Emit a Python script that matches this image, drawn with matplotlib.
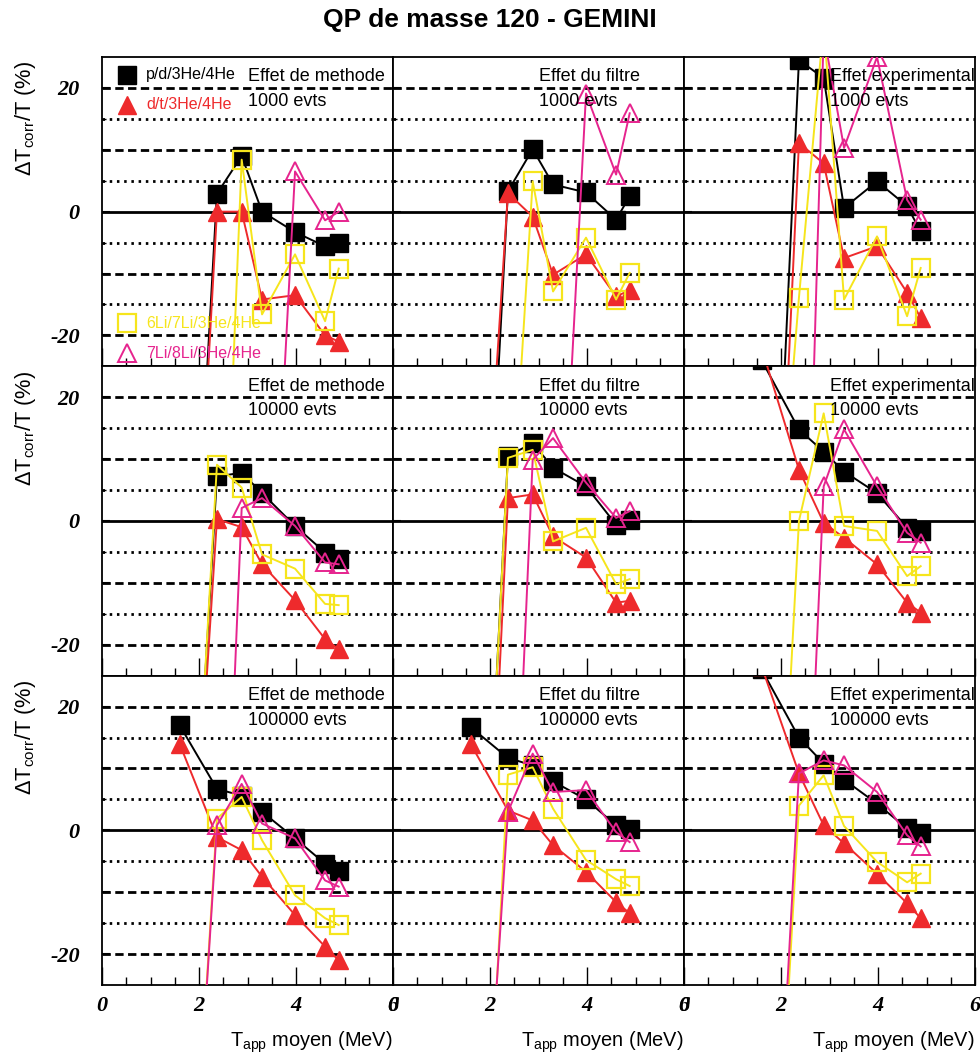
import matplotlib
matplotlib.use('Agg')
import matplotlib.pyplot as plt
from matplotlib import font_manager

# ---------------- data ----------------
X = [1.6, 2.37, 2.88, 3.3, 3.98, 4.6, 4.88]          # T_app moyen (MeV)
COLUMNS = ['Effet de methode', 'Effet du filtre', 'Effet experimental']
ROWS = ['1000 evts', '10000 evts', '100000 evts']
SERIES = ['p/d/3He/4He', 'd/t/3He/4He', '6Li/7Li/3He/4He', '7Li/8Li/3He/4He']

# one list per column (methode, filtre, experimental); values in %
pd_1000 = [[-105, 2.9, 9.0, 0.0, -3.3, -5.6, -5.0],
           [-110, 3.3, 10.1, 4.4, 3.1, -1.3, 2.5],
           [-106, 24.5, 21.6, 0.6, 4.9, 0.9, -3.2]]
dt_1000 = [[-108, 0.0, 0.0, -14.2, -13.5, -20.0, -21.0],
           [-90, 3.0, -0.8, -10.2, -6.9, -13.7, -12.7],
           [-118, 11.1, 7.8, -7.5, -5.6, -13.1, -17.2]]
li67_1000 = [[-120, -90, 8.4, -16.6, -6.9, -17.7, -9.2],
             [-120, -60, 4.9, -12.9, -4.2, -14.2, -9.9],
             [-88, -13.9, 30.3, -14.2, -4.0, -16.9, -9.1]]
li78_1000 = [[-120, -120, -120, -95, 6.5, -1.4, 0.0],
             [-120, -120, -120, -83, 19.1, 6.0, 15.9],
             [-120, -109, 28.7, 10.3, 25.0, 1.9, -1.3]]

pd_10000 = [[-95, 7.2, 7.8, 4.5, -0.8, -5.1, -6.2],
            [-107, 10.5, 12.6, 8.6, 5.6, -0.6, 0.2],
            [26, 14.8, 11.2, 8.0, 4.5, -1.1, -1.6]]
dt_10000 = [[-93, 0.3, -1.0, -7.0, -12.8, -19.1, -20.7],
            [-121, 3.7, 4.3, -2.5, -5.9, -13.2, -12.9],
            [28, 8.3, -0.3, -2.7, -7.0, -13.2, -14.8]]
li67_10000 = [[-97, 9.1, 5.4, -5.4, -7.7, -13.4, -13.6],
              [-107, 10.2, 11.5, -3.3, -1.1, -10.2, -9.4],
              [-114, 0.0, 17.4, -0.8, -1.6, -8.9, -7.3]]
li78_10000 = [[-120, -95, 2.1, 3.7, -0.8, -6.7, -7.0],
              [-120, -82, 9.9, 13.4, 6.2, 0.5, 1.6],
              [-120, -87, 5.6, 14.8, 5.6, -1.9, -3.5]]

pd_100000 = [[17.0, 6.7, 5.6, 3.0, -1.3, -5.4, -6.5],
             [16.7, 11.7, 10.5, 7.9, 5.0, 0.8, 0.2],
             [26, 15.0, 10.8, 8.2, 4.3, 0.3, -0.4]]
dt_100000 = [[14.0, -1.1, -3.2, -7.5, -13.7, -18.8, -21.0],
             [14.0, 3.2, 1.6, -2.4, -6.7, -11.6, -13.4],
             [26.5, 9.2, 0.8, -2.1, -7.0, -11.8, -14.2]]
li67_100000 = [[-95, 1.9, 5.4, -1.6, -10.5, -14.2, -15.3],
               [-104, 9.0, 10.2, 3.5, -4.8, -7.9, -9.0],
               [-103, 4.0, 8.9, 0.7, -5.1, -8.4, -7.0]]
li78_100000 = [[-95, 0.8, 7.5, 1.1, -1.3, -8.1, -9.1],
               [-90, 3.0, 12.4, 6.2, 6.5, -0.3, -1.9],
               [-101, 9.2, 11.3, 10.5, 6.2, -0.8, -2.6]]

DATA = [[pd_1000, dt_1000, li67_1000, li78_1000],
        [pd_10000, dt_10000, li67_10000, li78_10000],
        [pd_100000, dt_100000, li67_100000, li78_100000]]

# ---------------- style ----------------
BLACK, RED, YELLOW, PINK = '#000000', '#ee2a2c', '#f6e51c', '#e6248e'
STYLES = [dict(color=BLACK, marker='s', ms=12.5, mfc=BLACK, mec=BLACK, mew=1.0),
          dict(color=RED, marker='^', ms=13.5, mfc=RED, mec=RED, mew=1.0),
          dict(color=YELLOW, marker='s', ms=12.5, mfc='none', mec=YELLOW, mew=1.6),
          dict(color=PINK, marker='^', ms=13.5, mfc='none', mec=PINK, mew=1.4)]

plt.rcParams['font.family'] = ['Liberation Sans', 'DejaVu Sans']
plt.rcParams['mathtext.fontset'] = 'custom'

installed = {f.name for f in font_manager.fontManager.ttflist}
NARROW = 'Liberation Sans Narrow' if 'Liberation Sans Narrow' in installed else 'Liberation Sans'
narrow_scale = 1.0 if NARROW == 'Liberation Sans Narrow' else 0.85
plt.rcParams['mathtext.rm'] = NARROW
plt.rcParams['mathtext.it'] = NARROW + ':italic'

W, H = 980, 1063
fig = plt.figure(figsize=(W / 100, H / 100), dpi=100)

left0, top0 = 102, 57
cw, rh = 291.0, (985 - 57) / 3.0
tickfont = dict(family='Liberation Serif', weight='bold', style='italic', size=16)

for r in range(3):
    for c in range(3):
        x0 = left0 + c * cw
        y0 = top0 + r * rh
        ax = fig.add_axes([x0 / W, 1 - (y0 + rh) / H, cw / W, rh / H])
        ax.set_xlim(0, 6)
        ax.set_ylim(-25, 25)
        # reference lines
        for yv in (-20, -10, 10, 20):
            ax.axhline(yv, color='black', lw=2.0, dashes=(3.0, 1.6), zorder=1)
        for yv in (-15, -5, 5, 15):
            ax.axhline(yv, color='black', lw=2.0, dashes=(0.9, 1.7), zorder=1)
        ax.axhline(0, color='black', lw=2.0, zorder=1)
        # series
        for s in range(4):
            st = STYLES[s]
            ax.plot(X, DATA[r][s][c], color=st['color'], lw=1.4, marker=st['marker'],
                    ms=st['ms'], mfc=st['mfc'], mec=st['mec'], mew=st['mew'], zorder=3 + s)
        # annotations
        ax.text(3.02, 21.8, COLUMNS[c], fontsize=13, va='center', ha='left', zorder=10)
        ax.text(3.02, 17.8, ROWS[r], fontsize=13, va='center', ha='left', zorder=10)
        # ticks
        ax.set_xticks([0, 2, 4, 6])
        ax.set_xticks([i * 0.5 for i in range(13)], minor=True)
        ax.set_yticks([-20, -10, 0, 10, 20])
        ax.set_yticks([-15, -5, 5, 15], minor=True)
        ax.tick_params(axis='x', which='major', direction='in', length=13, width=1.0, top=False)
        ax.tick_params(axis='x', which='minor', direction='in', length=6, width=1.0, top=False)
        ax.tick_params(axis='y', which='major', direction='in', length=6, width=1.5, right=False)
        ax.tick_params(axis='y', which='minor', direction='in', length=3, width=1.0, right=False)
        if r == 2:
            ax.set_xticklabels(['0', '2', '4', '6'], fontdict=tickfont)
            ax.tick_params(axis='x', which='major', pad=8)
        else:
            ax.set_xticklabels([])
        if c == 0:
            ax.set_yticklabels(['-20', '', '0', '', '20'], fontdict=tickfont)
            ax.tick_params(axis='y', which='major', pad=16)
        else:
            ax.set_yticklabels([])
        for sp in ax.spines.values():
            sp.set_linewidth(1.3)
        # legend in the first panel
        if r == 0 and c == 0:
            lx, tx = 0.086, 0.152
            for s, ly in zip(range(4), (0.942, 0.845, 0.140, 0.043)):
                st = STYLES[s]
                ax.plot([lx], [ly], transform=ax.transAxes, ls='none', marker=st['marker'],
                        ms=st['ms'], mfc=st['mfc'], mec=st['mec'], mew=st['mew'], zorder=12,
                        clip_on=False)
                ax.text(tx, ly, SERIES[s], transform=ax.transAxes, color=st['color'],
                        fontsize=11.5, va='center', ha='left', zorder=12)

# axis titles
for c in range(3):
    xr = left0 + (c + 1) * cw
    fig.text(xr / W, 1 - 1042 / H, r'T$_{\rm app}$ moyen (MeV)', fontsize=17 * narrow_scale,
             family=NARROW, ha='right', va='center')
for r in range(3):
    ytop = top0 + r * rh + 4
    fig.text(26 / W, 1 - ytop / H, r'$\Delta$T$_{\rm corr}$/T (%)', fontsize=18.5 * narrow_scale,
             family=NARROW, rotation=90, ha='center', va='top')

fig.text(0.5, 1 - 20 / H, 'QP de masse 120 - GEMINI', fontsize=19, weight='bold',
         ha='center', va='center')

fig.savefig('out.png', dpi=100)
